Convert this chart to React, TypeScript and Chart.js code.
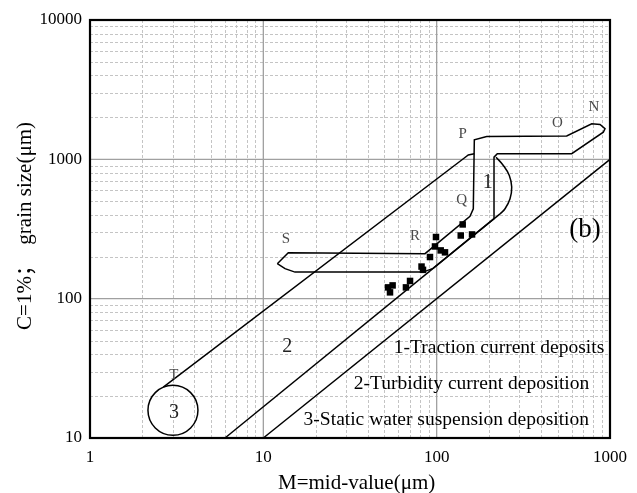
import React, { useEffect, useRef } from 'react';
import { Chart, registerables } from 'chart.js';

Chart.register(...registerables);

// ---- sample points: M (median, µm) and C (one-percentile, µm)
const sampleM = [141.3, 137.7, 160, 99.1, 97.8, 105.5, 111.7, 91.5, 81.8, 83.4, 70.2, 66.5, 55.7, 52.4, 53.8];
const sampleC = [341, 284, 289, 277, 237, 222, 215, 199, 170, 161, 134, 120.5, 124.5, 120.5, 111];

// ---- field 1 outline (N-O-P-Q-R-S), closed
const field1M = [12.04, 13.93, 85.67, 155.7, 162.7, 164.9, 194.4, 562.6, 784.5, 876, 935.9, 915, 601.3, 223.8, 214.2, 214.2, 95.3, 83.4, 15.23, 13.34, 12.04];
const field1C = [178.2, 213.8, 210.3, 389.4, 440.8, 1382, 1460, 1472, 1801, 1780, 1658, 1567, 1097, 1097, 1037, 374.9, 165.0, 155.1, 155.1, 164.1, 178.2];

// ---- arc closing field 1 on the right
const arcM = [220, 242.4, 262.5, 271, 265, 248, 232];
const arcC = [1037, 904, 766, 632, 522, 442, 406];

// ---- upper boundary of field 2 (from T)
const lineAM = [2.648, 142.5, 152.2, 164.9];
const lineAC = [23.2, 1010, 1075, 1097];

// ---- lower boundary of fields 1/2
const lineBM = [6.01, 232];
const lineBC = [10, 406];

// ---- C = M line
const lineCM = [10, 1000];
const lineCC = [10, 1000];

// ---- field 3 circle centre
const circleM = [3.01];
const circleC = [15.8];

// ---- axis tick labels (decades)
const xTicks = [1, 10, 100, 1000];
const yTicks = [10, 100, 1000, 10000];

// ---- segment letters
const letterText = ['S', 'R', 'Q', 'P', 'O', 'N', 'T'];
const letterM = [13.51, 75.0, 139.5, 141.3, 496.6, 808.7, 3.05];
const letterC = [269.4, 282.2, 507.3, 1509, 1818, 2368, 28.2];

// ---- field numbers
const fieldText = ['1', '2', '3'];
const fieldM = [197.0, 13.75, 3.05];
const fieldC = [675, 45.0, 15.3];

// ---- legend notes
const noteText = ['1-Traction current deposits', '2-Turbidity current deposition', '3-Static water suspension deposition'];
const noteM = [228.9, 158.9, 113.7];
const noteC = [44.7, 24.6, 13.4];

const panelText = '(b)';
const panelM = 717.5;
const panelC = 309;

const xTitle = 'M=mid-value(μm)';
const yTitle = 'C=1%；  grain size(μm)';

const SERIF = '"Liberation Serif", "Times New Roman", "Noto Sans CJK SC", serif';

const pts = (m: number[], c: number[]) => m.map((v, i) => ({ x: v, y: c[i] }));

const decor = {
  id: 'decor',
  beforeDatasetsDraw(chart: any) {
    const { ctx, chartArea: a, scales } = chart;
    const x = scales.x;
    const y = scales.y;
    ctx.save();
    ctx.beginPath();
    ctx.rect(a.left, a.top, a.right - a.left, a.bottom - a.top);
    ctx.clip();
    // minor grid
    ctx.strokeStyle = '#c4c4c4';
    ctx.lineWidth = 1;
    ctx.setLineDash([3, 2]);
    for (let i = 0; i < xTicks.length - 1; i++) {
      for (let k = 2; k <= 9; k++) {
        const px = Math.round(x.getPixelForValue(k * xTicks[i])) + 0.5;
        ctx.beginPath();
        ctx.moveTo(px, a.top);
        ctx.lineTo(px, a.bottom);
        ctx.stroke();
      }
    }
    for (let i = 0; i < yTicks.length - 1; i++) {
      for (let k = 2; k <= 9; k++) {
        const py = Math.round(y.getPixelForValue(k * yTicks[i])) + 0.5;
        ctx.beginPath();
        ctx.moveTo(a.left, py);
        ctx.lineTo(a.right, py);
        ctx.stroke();
      }
    }
    // major grid
    ctx.setLineDash([]);
    ctx.strokeStyle = '#a0a0a0';
    ctx.lineWidth = 1.3;
    xTicks.forEach((v) => {
      const px = x.getPixelForValue(v);
      ctx.beginPath();
      ctx.moveTo(px, a.top);
      ctx.lineTo(px, a.bottom);
      ctx.stroke();
    });
    yTicks.forEach((v) => {
      const py = y.getPixelForValue(v);
      ctx.beginPath();
      ctx.moveTo(a.left, py);
      ctx.lineTo(a.right, py);
      ctx.stroke();
    });
    ctx.restore();
  },
  afterDatasetsDraw(chart: any) {
    const { ctx, chartArea: a, scales } = chart;
    const x = scales.x;
    const y = scales.y;
    ctx.save();
    // frame
    ctx.strokeStyle = '#000';
    ctx.lineWidth = 2.2;
    ctx.strokeRect(a.left, a.top, a.right - a.left, a.bottom - a.top);

    ctx.textAlign = 'center';
    ctx.textBaseline = 'middle';
    // letters
    ctx.fillStyle = '#4a4a4a';
    ctx.font = `15px ${SERIF}`;
    letterText.forEach((t, i) => {
      ctx.fillText(t, x.getPixelForValue(letterM[i]), y.getPixelForValue(letterC[i]));
    });
    // field numbers
    ctx.fillStyle = '#222';
    ctx.font = `20px ${SERIF}`;
    fieldText.forEach((t, i) => {
      ctx.fillText(t, x.getPixelForValue(fieldM[i]), y.getPixelForValue(fieldC[i]));
    });
    // notes
    ctx.fillStyle = '#000';
    ctx.font = `19.5px ${SERIF}`;
    noteText.forEach((t, i) => {
      ctx.fillText(t, x.getPixelForValue(noteM[i]), y.getPixelForValue(noteC[i]));
    });
    // panel tag
    ctx.font = `27px ${SERIF}`;
    ctx.fillText(panelText, x.getPixelForValue(panelM), y.getPixelForValue(panelC));

    // axis titles
    ctx.font = `21px ${SERIF}`;
    ctx.textAlign = 'left';
    ctx.fillText(xTitle, a.left + 188, 483);
    ctx.translate(25, 122);
    ctx.rotate(-Math.PI / 2);
    ctx.textAlign = 'right';
    ctx.fillText(yTitle, 0, 0);
    ctx.restore();
  },
};

export default function App() {
  const ref = useRef<HTMLCanvasElement | null>(null);

  useEffect(() => {
    if (!ref.current) return;
    const line = (m: number[], c: number[], tension = 0) => ({
      type: 'scatter' as const,
      data: pts(m, c),
      showLine: true,
      pointRadius: 0,
      borderColor: '#000',
      borderWidth: 1.5,
      backgroundColor: '#000',
      fill: false,
      tension,
      clip: false,
    });
    const chart = new Chart(ref.current, {
      type: 'scatter',
      data: {
        datasets: [
          line(field1M, field1C),
          line(arcM, arcC, 0.4),
          line(lineAM, lineAC),
          line(lineBM, lineBC),
          line(lineCM, lineCC),
          {
            type: 'scatter',
            data: pts(circleM, circleC),
            pointRadius: 25,
            pointBorderWidth: 1.5,
            pointBorderColor: '#000',
            pointBackgroundColor: 'rgba(0,0,0,0)',
            clip: false,
          } as any,
          {
            type: 'scatter',
            data: pts(sampleM, sampleC),
            pointStyle: 'rect',
            pointRadius: 4.6,
            pointBorderWidth: 0,
            pointBackgroundColor: '#000',
            pointBorderColor: '#000',
          } as any,
        ],
      },
      options: {
        responsive: false,
        devicePixelRatio: 1,
        animation: false,
        events: [],
        layout: { autoPadding: false, padding: { top: 20, right: 27, left: 0, bottom: 0 } },
        plugins: { legend: { display: false }, tooltip: { enabled: false } },
        scales: {
          x: {
            type: 'logarithmic',
            min: 1,
            max: 1000,
            grid: { display: false, drawTicks: false },
            border: { display: false },
            afterFit: (s: any) => {
              s.height = 55;
              s.paddingLeft = 0;
              s.paddingRight = 0;
            },
            ticks: {
              autoSkip: false,
              maxRotation: 0,
              padding: 9,
              color: '#000',
              font: { family: SERIF, size: 17 },
              callback: (v: any) => (xTicks.includes(Number(v)) ? String(v) : ''),
            },
          },
          y: {
            type: 'logarithmic',
            min: 10,
            max: 10000,
            grid: { display: false, drawTicks: false },
            border: { display: false },
            afterFit: (s: any) => {
              s.width = 90;
              s.paddingTop = 0;
              s.paddingBottom = 0;
            },
            ticks: {
              autoSkip: false,
              padding: 8,
              color: '#000',
              font: { family: SERIF, size: 17 },
              callback: (v: any) => (yTicks.includes(Number(v)) ? String(v) : ''),
            },
          },
        },
      },
      plugins: [decor],
    });
    return () => chart.destroy();
  }, []);

  return (
    <div style={{ position: 'fixed', left: 0, top: 0, width: 637, height: 493, background: '#fff' }}>
      <canvas ref={ref} width={637} height={493} style={{ display: 'block' }} />
    </div>
  );
}
